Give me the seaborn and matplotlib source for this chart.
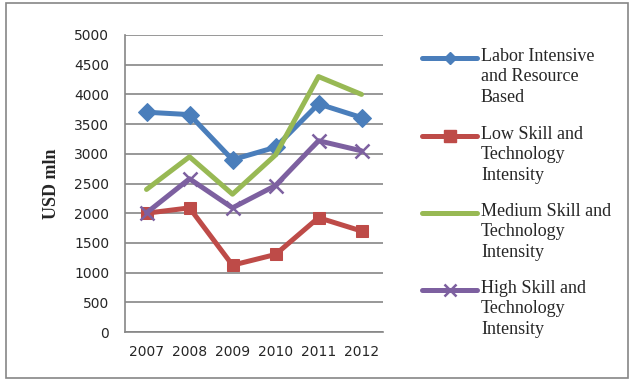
import matplotlib
matplotlib.use("Agg")
import matplotlib.pyplot as plt
import seaborn as sns
import pandas as pd
import numpy as np
from matplotlib.lines import Line2D
from matplotlib.patches import Rectangle

years = ["2007", "2008", "2009", "2010", "2011", "2012"]
labor = [3700, 3660, 2900, 3110, 3840, 3610]
low = [2000, 2090, 1125, 1305, 1925, 1700]
medium = [2400, 2950, 2320, 2980, 4300, 4000]
high = [2005, 2580, 2090, 2465, 3220, 3050]
series_names = ["Labor Intensive\nand Resource\nBased",
                "Low Skill and\nTechnology\nIntensity",
                "Medium Skill and\nTechnology\nIntensity",
                "High Skill and\nTechnology\nIntensity"]
y_ticks = [0, 500, 1000, 1500, 2000, 2500, 3000, 3500, 4000, 4500, 5000]

colors = ["#4A7EBB", "#BE4B48", "#98B954", "#7D60A0"]
markers = ["D", "s", None, "x"]
msizes = [9, 9, 0, 10]
leg_msizes = [6.5, 8, 0, 8]

W, H = 632, 381
sns.set_style("white")
fig = plt.figure(figsize=(W/100, H/100), dpi=100)
ax = fig.add_axes([125/W, 1-332/H, (383-125)/W, (332-35)/H])

df = pd.DataFrame({"year": years * 4,
                   "value": labor + low + medium + high,
                   "series": sum([[n]*len(years) for n in series_names], [])})
df["x"] = np.tile(np.arange(len(years)), 4)

for name, c, m, ms in zip(series_names, colors, markers, msizes):
    sub = df[df["series"] == name]
    kw = dict(marker=m, markersize=ms) if m else {}
    if m == "x":
        kw["markeredgewidth"] = 1.8
    sns.lineplot(data=sub, x="x", y="value", ax=ax, color=c, linewidth=3.6,
                 markeredgecolor=c, markerfacecolor=c, **kw)

tick_font = "DejaVu Sans"
ax.set_xlim(-0.5, len(years) - 0.5)
ax.set_ylim(0, 5000)
ax.set_yticks(y_ticks)
ax.set_yticklabels([str(v) for v in y_ticks], fontsize=10, family=tick_font)
ax.set_xticks(np.arange(-0.5, len(years), 1.0))
ax.set_xticklabels([])
ax.set_xticks(np.arange(len(years)), minor=True)
ax.set_xticklabels(years, minor=True, fontsize=10, family=tick_font)
ax.tick_params(axis="x", which="minor", length=0, pad=9)
ax.tick_params(axis="x", which="major", length=3.5, color="#868686", width=1, direction="out")
ax.tick_params(axis="y", length=4.3, color="#868686", width=1, direction="out", pad=7)
ax.grid(axis="y", color="#868686", linewidth=1.2)
ax.set_axisbelow(True)
for s in ["top", "right"]:
    ax.spines[s].set_visible(False)
for s in ["left", "bottom"]:
    ax.spines[s].set_color("#868686")
    ax.spines[s].set_linewidth(1.2)
ax.set_xlabel("")
ax.set_ylabel("")
fig.text(52/W, 1-184/H, "USD mln", family="Liberation Serif", fontweight="bold",
         fontsize=13, rotation=90, ha="center", va="center")

# legend drawn manually (handle aligned with first text line, like Excel)
leg_y = [58, 136, 213, 290]
for name, c, m, ms, yy in zip(series_names, colors, markers, leg_msizes, leg_y):
    fy = 1 - yy/H
    fig.add_artist(Line2D([422/W, 477/W], [fy, fy], color=c, linewidth=3.6,
                         transform=fig.transFigure, solid_capstyle="round"))
    if m:
        fig.add_artist(Line2D([449.5/W], [fy], color=c, marker=m, markersize=ms,
                             markeredgecolor=c, markerfacecolor=c,
                             markeredgewidth=1.8 if m == "x" else 1,
                             transform=fig.transFigure, linestyle="none"))
    fig.text(481/W, fy + 10/H, name, family="Liberation Serif", fontsize=13,
             ha="left", va="top", linespacing=1.26)

fig.patches.append(Rectangle((6/W, 3/H), 622/W, 375/H, transform=fig.transFigure,
                             fill=False, edgecolor="#868686", linewidth=1.2))

fig.savefig("out.png", dpi=100)
